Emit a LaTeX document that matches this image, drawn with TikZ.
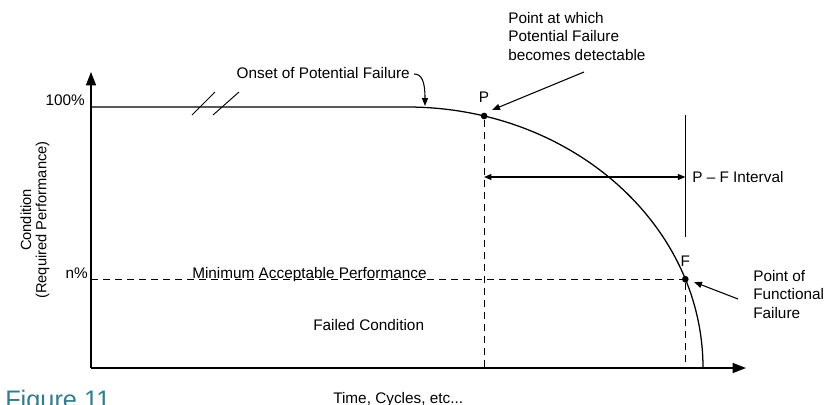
\documentclass[tikz,border=0pt]{standalone}
\usepackage{fontspec}
\setmainfont{Liberation Sans}
\usetikzlibrary{arrows.meta, positioning}
\definecolor{figteal}{RGB}{52,124,140}
\tikzstyle{axis} = [line width=1.1pt, -{Triangle[length=10pt, width=7.5pt]}]
\tikzstyle{curve} = [line width=0.95pt]
\tikzstyle{guide} = [line width=0.9pt, dash pattern=on 5.5pt off 3.5pt]
\tikzstyle{pointer} = [line width=0.8pt, -{Triangle[length=6pt, width=4.5pt]}]
\tikzstyle{span} = [line width=0.8pt, {Triangle[length=5.5pt, width=4.5pt]}-{Triangle[length=5.5pt, width=4.5pt]}]
\tikzstyle{label} = [font=\fontsize{11.5}{13.9}\selectfont, inner sep=0pt]
\tikzstyle{dot} = [circle, fill, inner sep=0pt, minimum size=5pt]

\begin{document}
\begin{tikzpicture}[x=0.75pt, y=-0.75pt]
    \useasboundingbox (0,0) rectangle (824,404);
    \clip (0,0) rectangle (824,404);

    % Axes.
    \coordinate (origin) at (91,368);
    \coordinate (ytip) at (91,72);
    \coordinate (xtip) at (746,368);
    \draw [axis] (origin) -- (ytip);
    \draw [axis] (origin) -- (xtip);

    % Condition curve, flat at 100% then a quarter ellipse.
    \coordinate (full) at (91,107);
    \coordinate (knee) at (407,107);
    \draw [curve] (full) -- (knee) arc [start angle=-90, end angle=0, x radius=296, y radius=261];
    \draw [line width=0.7pt] (192,115) -- (215,92);
    \draw [line width=0.7pt] (213,115) -- (239,92);

    % Points P and F.
    \node (pdot) [dot] at (484.1,116) {};
    \node (fdot) [dot] at (685.3,279.2) {};
    \node (plabel) [label, above=7.5pt of pdot] {P};
    \node (flabel) [label, above=6.3pt of fdot] {F};

    % Dashed guides.
    \draw [guide] (pdot) -- (pdot |- origin);
    \draw [guide] (origin |- fdot) -- (fdot);
    \draw [guide] (fdot) -- (fdot |- origin);

    % P - F interval.
    \coordinate (ivtop) at (685.3,115);
    \coordinate (ivbot) at (685.3,237);
    \coordinate (ivmid) at (685.3,177);
    \draw [curve] (ivtop) -- (ivbot);
    \draw [span] (pdot |- ivmid) -- (ivmid);

    % Labels.
    \node (hundred) [label, anchor=base east] at (85,105.5) {100\%};
    \node (npct) [label, anchor=base east] at (88,278.5) {n\%};
    \node (ylabel) [label, rotate=90, align=center, font=\fontsize{11}{11.4}\selectfont] at (35,220) {Condition\\(Required Performance)};
    \node (minimum) [label, anchor=base west] at (192,278) {Minimum Acceptable Performance};
    \node (failed) [label, anchor=base west] at (313,330.5) {Failed Condition};
    \node (time) [label, anchor=base west] at (333,403) {Time, Cycles, etc...};
    \node (onset) [label, anchor=base east] at (410,78.5) {Onset of Potential Failure};
    \node (detect) [label, align=left, anchor=base west] at (508,60.5) {Point at which\\Potential Failure\\becomes detectable};
    \node (interval) [label, anchor=base west] at (692,182.5) {P – F Interval};
    \node (functional) [label, align=left, anchor=base west] at (753,318.5) {Point of\\Functional\\Failure};
    \node (figlabel) [font=\fontsize{19}{22}\selectfont, text=figteal, anchor=base west, inner sep=0pt] at (5,408) {Figure 11};

    % Pointers.
    \coordinate (onsettail) at (414,74);
    \coordinate (onsettip) at (425,106);
    \draw [pointer] (onsettail) .. controls (422,74) and (425,82) .. (onsettip);
    \coordinate (detecttail) at (584,72);
    \coordinate (detecttip) at (492,110);
    \draw [pointer] (detecttail) -- (detecttip);
    \coordinate (functail) at (738,299);
    \coordinate (functip) at (694,282);
    \draw [pointer] (functail) -- (functip);
\end{tikzpicture}
\end{document}
